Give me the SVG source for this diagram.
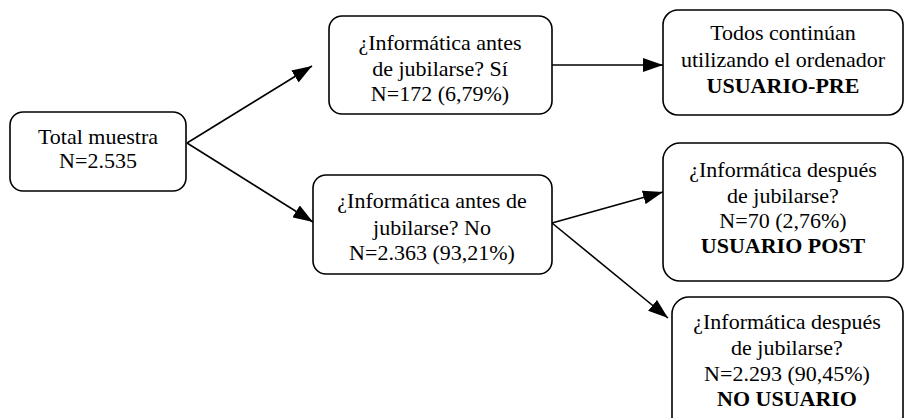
<svg xmlns="http://www.w3.org/2000/svg" width="905" height="418" viewBox="0 0 905 418">
<style>
.box{fill:#fff;stroke:#000;stroke-width:1.6}
.t{font-family:"Liberation Serif","Times New Roman",Times,serif;font-size:22px;fill:#000;text-anchor:middle}
.b{font-weight:bold}
.c{stroke:#000;stroke-width:1.6;fill:none;marker-end:url(#ah)}
</style>
<defs>
<marker id="ah" viewBox="0 0 20 14" refX="20" refY="7" markerWidth="20" markerHeight="14" markerUnits="userSpaceOnUse" orient="auto">
<path d="M0,0 L20,7 L0,14 Z" fill="#000"/>
</marker>
</defs>
<g id="connectors">
<line class="c" x1="187" y1="143" x2="312" y2="66"/>
<line class="c" x1="187" y1="143" x2="313" y2="222"/>
<line class="c" x1="552" y1="65" x2="663" y2="65"/>
<line class="c" x1="552" y1="223" x2="663" y2="192"/>
<line class="c" x1="552" y1="223" x2="668" y2="318"/>
</g>
<g id="n1">
<rect class="box" x="10" y="112" width="176" height="79" rx="13"/>
<text class="t" x="98" y="144">Total muestra</text>
<text class="t" x="98" y="168">N=2.535</text>
</g>
<g id="n2">
<rect class="box" x="329" y="16" width="223" height="98" rx="13"/>
<text class="t" x="440" y="50">¿Informática antes</text>
<text class="t" x="440" y="76">de jubilarse? Sí</text>
<text class="t" x="440" y="101">N=172 (6,79%)</text>
</g>
<g id="n3">
<rect class="box" x="663" y="10" width="240" height="105" rx="15"/>
<text class="t" x="783" y="40">Todos continúan</text>
<text class="t" x="783" y="67">utilizando el ordenador</text>
<text class="t b" x="783" y="93">USUARIO-PRE</text>
</g>
<g id="n4">
<rect class="box" x="313" y="175" width="239" height="99" rx="13"/>
<text class="t" x="432" y="208">¿Informática antes de</text>
<text class="t" x="432" y="235">jubilarse? No</text>
<text class="t" x="432" y="260">N=2.363 (93,21%)</text>
</g>
<g id="n5">
<rect class="box" x="663" y="143" width="240" height="138" rx="17"/>
<text class="t" x="783" y="177">¿Informática después</text>
<text class="t" x="783" y="203">de jubilarse?</text>
<text class="t" x="783" y="228">N=70 (2,76%)</text>
<text class="t b" x="783" y="253">USUARIO POST</text>
</g>
<g id="n6">
<rect class="box" x="672" y="297" width="231" height="140" rx="17"/>
<text class="t" x="787" y="329">¿Informática después</text>
<text class="t" x="787" y="355">de jubilarse?</text>
<text class="t" x="787" y="381">N=2.293 (90,45%)</text>
<text class="t b" x="787" y="406">NO USUARIO</text>
</g>
</svg>
